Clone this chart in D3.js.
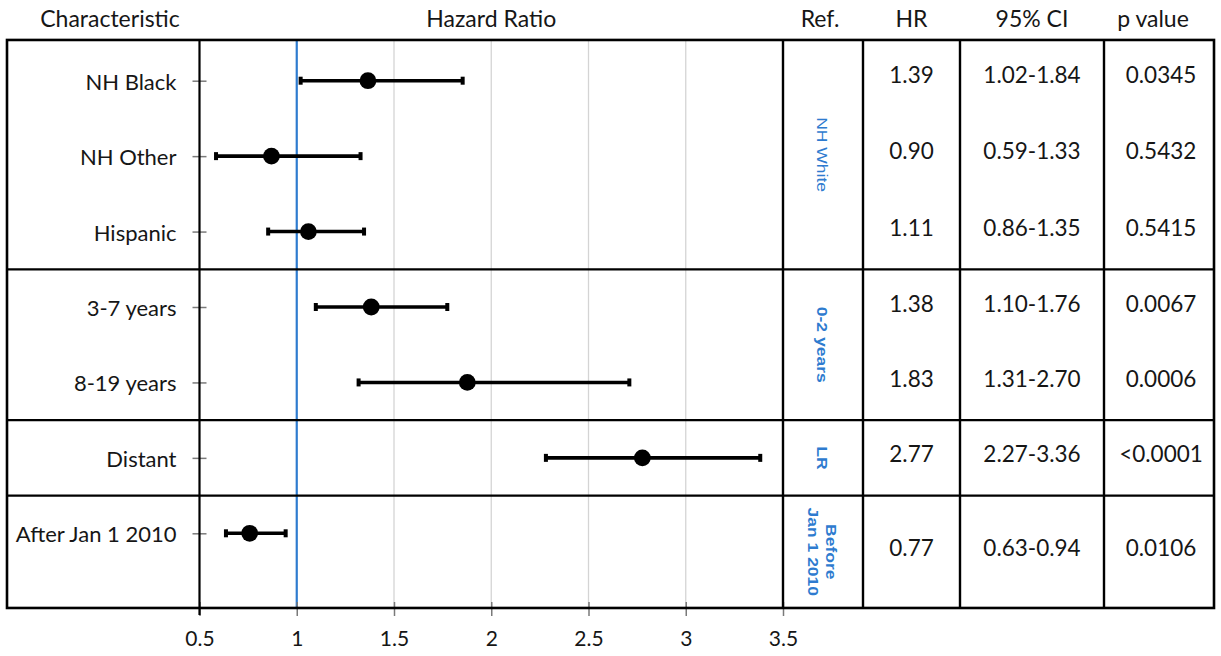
<!DOCTYPE html>
<html>
<head>
<meta charset="utf-8">
<script src="https://cdn.jsdelivr.net/npm/d3@7"></script>
<style>
  html, body { margin: 0; padding: 0; background: #fff; }
  svg { display: block; }
</style>
</head>
<body>
<svg id="chart" width="1221" height="656"></svg>
<script>
// ---------------- data ----------------
const characteristics = ["NH Black", "NH Other", "Hispanic", "3-7 years", "8-19 years", "Distant", "After Jan 1 2010"];
const groupOf = [0, 0, 0, 1, 1, 2, 3];
const estimates = [1.366, 0.870, 1.060, 1.383, 1.877, 2.777, 0.758];
const lowerCI  = [1.020, 0.585, 0.853, 1.098, 1.318, 2.281, 0.636];
const upperCI  = [1.853, 1.328, 1.346, 1.774, 2.710, 3.383, 0.943];
const hrText   = ["1.39", "0.90", "1.11", "1.38", "1.83", "2.77", "0.77"];
const ciText   = ["1.02-1.84", "0.59-1.33", "0.86-1.35", "1.10-1.76", "1.31-2.70", "2.27-3.36", "0.63-0.94"];
const pText    = ["0.0345", "0.5432", "0.5415", "0.0067", "0.0006", "<0.0001", "0.0106"];
const refLabels = [["NH White"], ["0-2 years"], ["LR"], ["Before", "Jan 1 2010"]];
const refBold   = [false, true, true, true];
const xTicks = [0.5, 1, 1.5, 2, 2.5, 3, 3.5];
const headers = ["Characteristic", "Hazard Ratio", "Ref.", "HR", "95% CI", "p value"];

// ---------------- layout ----------------
const svg = d3.select("#chart");
const FONT = "Lato, 'Open Sans', sans-serif";
const BLUE = "#2e7bcf";
const INK = "#161616";

const x = d3.scaleLinear().domain([0.5, 3.5]).range([199.5, 783]);
const y = d3.scalePoint().domain(d3.range(characteristics.length)).range([80.7, 533.3]);
const step = y.step();
const yTop = y(0) - step * 0.54;
const yBottom = y(characteristics.length - 1) + step * 0.99;
const frameLeft = 7, frameRight = 1214;
const colEdges = [783, 863, 960, 1104, frameRight]; // Ref | HR | CI | p

// group extents (boundaries halfway between rows)
const nGroups = refLabels.length;
const groupBounds = d3.range(nGroups).map(g => {
  const idx = d3.range(characteristics.length).filter(i => groupOf[i] === g);
  const first = idx[0], last = idx[idx.length - 1];
  const y0 = first === 0 ? yTop : (y(first) + y(first - 1)) / 2;
  const y1 = last === characteristics.length - 1 ? yBottom : (y(last) + y(last + 1)) / 2;
  return { g, idx, y0, y1 };
});

// ---------------- grid ----------------
svg.append("g").selectAll("line.grid")
  .data(xTicks.filter(t => t > 1 && t < 3.5))
  .join("line")
  .attr("x1", d => x(d)).attr("x2", d => x(d))
  .attr("y1", yTop).attr("y2", yBottom)
  .attr("stroke", "#d4d4d4").attr("stroke-width", 1.3);

// reference line at HR = 1
svg.append("line")
  .attr("x1", x(1)).attr("x2", x(1)).attr("y1", yTop).attr("y2", yBottom)
  .attr("stroke", BLUE).attr("stroke-width", 2.2);

// ---------------- x axis ----------------
const xAxis = d3.axisBottom(x).tickValues(xTicks).tickSize(14).tickFormat(d3.format("~g"));
const gx = svg.append("g").attr("transform", `translate(0,${yBottom - 6})`).call(xAxis);
gx.select(".domain").remove();
gx.selectAll(".tick line").attr("stroke", "#7a7a7a").attr("stroke-width", 1.5);
gx.selectAll(".tick text")
  .attr("font-family", FONT).attr("font-size", 21).attr("fill", INK)
  .attr("y", 638 - (yBottom - 6)).attr("dy", null)
  .attr("dominant-baseline", "central");

// ---------------- y axis ----------------
const yAxis = d3.axisLeft(y).tickSize(0).tickFormat(i => characteristics[i]);
const gy = svg.append("g").attr("transform", `translate(${x(0.5)},0)`).call(yAxis);
gy.select(".domain").remove();
gy.selectAll(".tick text")
  .attr("font-family", FONT).attr("font-size", 22).attr("fill", INK)
  .attr("x", -23).attr("dy", null).attr("dominant-baseline", "central");
gy.selectAll(".tick").append("line")
  .attr("x1", -7).attr("x2", 7)
  .attr("stroke", "#7a7a7a").attr("stroke-width", 1.5);

// ---------------- frame & table lines ----------------
const lines = svg.append("g").attr("stroke", "#000").attr("fill", "none");
lines.append("rect")
  .attr("x", frameLeft).attr("y", yTop)
  .attr("width", frameRight - frameLeft).attr("height", yBottom - yTop)
  .attr("stroke-width", 2.6);
lines.append("line")
  .attr("x1", x(0.5)).attr("x2", x(0.5)).attr("y1", yTop).attr("y2", yBottom + 7)
  .attr("stroke-width", 2.2);
lines.selectAll("line.col")
  .data(colEdges.slice(0, -1))
  .join("line")
  .attr("x1", d => d).attr("x2", d => d).attr("y1", yTop).attr("y2", yBottom)
  .attr("stroke-width", 2.4);
lines.selectAll("line.sep")
  .data(groupBounds.slice(1))
  .join("line")
  .attr("x1", frameLeft).attr("x2", frameRight)
  .attr("y1", d => d.y0).attr("y2", d => d.y0)
  .attr("stroke-width", 2.2);

// ---------------- error bars ----------------
const marks = svg.append("g");
const rows = d3.range(characteristics.length);
marks.selectAll("line.ci")
  .data(rows).join("line")
  .attr("x1", i => x(lowerCI[i])).attr("x2", i => x(upperCI[i]))
  .attr("y1", i => y(i)).attr("y2", i => y(i))
  .attr("stroke", "#000").attr("stroke-width", 3.6);
const capW = 4, capH = 8;
marks.selectAll("rect.capL")
  .data(rows).join("rect")
  .attr("x", i => x(lowerCI[i]) - capW / 2).attr("y", i => y(i) - capH / 2)
  .attr("width", capW).attr("height", capH).attr("fill", "#000");
marks.selectAll("rect.capR")
  .data(rows).join("rect")
  .attr("x", i => x(upperCI[i]) - capW / 2).attr("y", i => y(i) - capH / 2)
  .attr("width", capW).attr("height", capH).attr("fill", "#000");
marks.selectAll("circle")
  .data(rows).join("circle")
  .attr("cx", i => x(estimates[i])).attr("cy", i => y(i)).attr("r", 8.4)
  .attr("fill", "#000");

// ---------------- headers ----------------
const headerX = [110, (x(0.5) + x(3.5)) / 2,
  (colEdges[0] + colEdges[1]) / 2 - 3, (colEdges[1] + colEdges[2]) / 2,
  (colEdges[2] + colEdges[3]) / 2, (colEdges[3] + colEdges[4]) / 2 - 6];
svg.append("g").selectAll("text")
  .data(headers).join("text")
  .attr("x", (d, i) => headerX[i]).attr("y", 18)
  .attr("text-anchor", "middle").attr("dominant-baseline", "central")
  .attr("font-family", FONT).attr("font-size", 23).attr("fill", INK)
  .text(d => d);

// ---------------- table values ----------------
function cellY(i) {
  const gb = groupBounds[groupOf[i]];
  const k = gb.idx.indexOf(i);
  const h = (gb.y1 - gb.y0) / gb.idx.length;
  return gb.y0 + h * (k + 0.5) - 4;
}
const tableCols = [hrText, ciText, pText];
const tg = svg.append("g");
tableCols.forEach((col, c) => {
  tg.selectAll(null)
    .data(col).join("text")
    .attr("x", (colEdges[c + 1] + colEdges[c + 2]) / 2 + (c === 2 ? 2 : 0))
    .attr("y", (d, i) => cellY(i))
    .attr("text-anchor", "middle").attr("dominant-baseline", "central")
    .attr("font-family", FONT).attr("font-size", 22.5).attr("fill", INK)
    .text(d => d);
});

// ---------------- reference labels ----------------
const refX = (colEdges[0] + colEdges[1]) / 2 - 1;
const rg = svg.append("g");
groupBounds.forEach(gb => {
  const linesTxt = refLabels[gb.g];
  const t = rg.append("text")
    .attr("transform", `translate(${refX},${(gb.y0 + gb.y1) / 2}) rotate(90) scale(1,0.82)`)
    .attr("text-anchor", "middle")
    .attr("font-family", "'Liberation Sans', Arial, sans-serif")
    .attr("font-size", 17.5)
    .attr("font-weight", refBold[gb.g] ? "bold" : "normal")
    .attr("fill", BLUE);
  linesTxt.forEach((s, k) => {
    t.append("tspan")
      .attr("x", 0)
      .attr("y", (k - (linesTxt.length - 1) / 2) * 21)
      .attr("dominant-baseline", "central")
      .text(s);
  });
});
</script>
</body>
</html>
